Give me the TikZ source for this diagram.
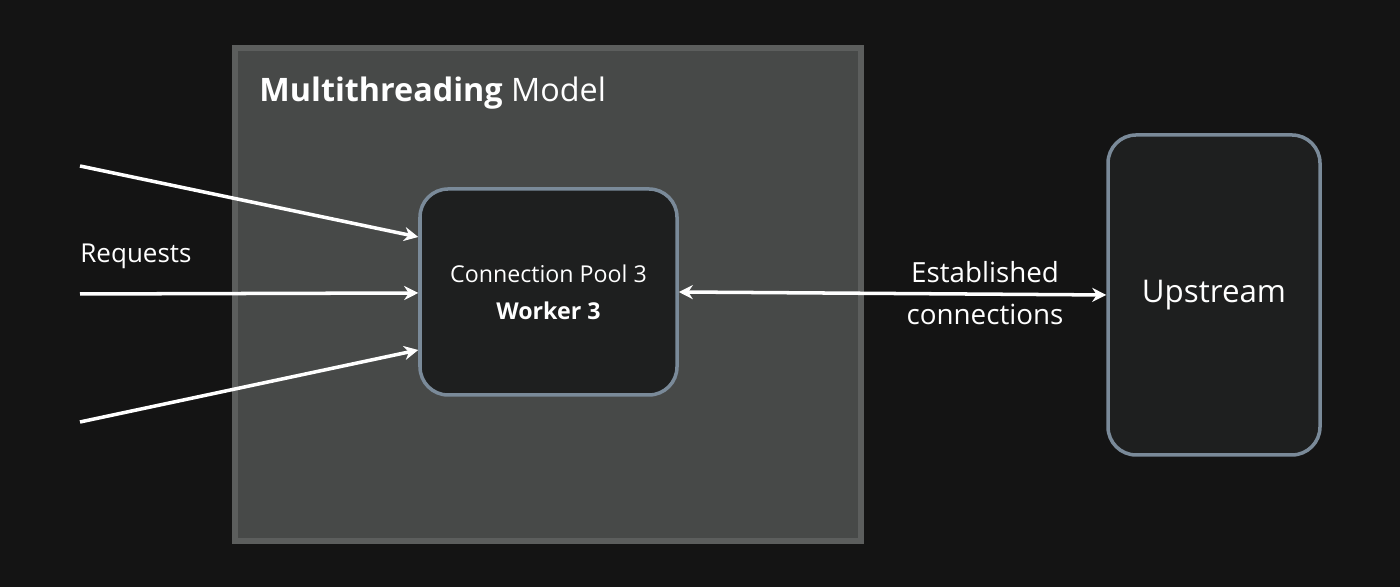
\documentclass[tikz,border=0pt]{standalone}
\usepackage{fontspec}
\setmainfont{Open Sans}
\usetikzlibrary{arrows.meta}
\definecolor{bgdark}{HTML}{141414}
\definecolor{modelfill}{HTML}{474948}
\definecolor{modeldraw}{HTML}{5C5E5D}
\definecolor{boxfill}{HTML}{1E1F1F}
\definecolor{boxdraw}{HTML}{7A8A99}
\begin{document}
\begin{tikzpicture}[
    model/.style={
        rectangle,
        minimum width=6.26cm,
        minimum height=4.93cm,
        draw=modeldraw,
        line width=1.5pt,
        fill=modelfill
    },
    worker/.style={
        rectangle,
        rounded corners=8pt,
        minimum width=2.57cm,
        minimum height=2.06cm,
        draw=boxdraw,
        line width=1pt,
        fill=boxfill,
        text=white,
        align=center,
        font=\fontsize{6.6pt}{9.5pt}\selectfont
    },
    flow/.style={
        -{Stealth[length=4pt,width=4pt]},
        white,
        line width=1pt
    }
]

% Background
\fill[bgdark] (0,0) rectangle (14,5.87);
\useasboundingbox (0,0) rectangle (14,5.87);

% Containers
\node[model] (model) at (5.48,2.925) {};
\node[anchor=west, text=white, font=\fontsize{9.2pt}{10pt}\selectfont] (title) at (2.47,4.94) {\textbf{Multithreading} Model};
\node[worker] (pool) at (5.485,2.95) {Connection Pool 3\\[1pt]\textbf{Worker 3}};
\node[worker, minimum width=2.12cm, minimum height=3.2cm, font=\fontsize{8.9pt}{10pt}\selectfont] (upstream) at (12.14,2.92) {Upstream};

% Requests
\coordinate (r1) at (0.8,4.21);
\coordinate (r2) at (0.8,2.93);
\coordinate (r3) at (0.8,1.65);
\node[anchor=west, text=white, font=\fontsize{7.4pt}{9pt}\selectfont] (req) at (0.68,3.31) {Requests};
\draw[flow] (r1) -- (pool.west |- 0,3.5);
\draw[flow] (r2) -- (pool.west |- 0,2.94);
\draw[flow] (r3) -- (pool.west |- 0,2.37);

% Upstream link
\draw[flow, {Stealth[length=4pt,width=4pt]}-{Stealth[length=4pt,width=4pt]}] (pool.east |- 0,2.95) -- (upstream.west |- 0,2.92);
\node[text=white, align=center, font=\fontsize{7.9pt}{11.8pt}\selectfont] (est) at (9.85,2.94) {Established\\connections};

\end{tikzpicture}
\end{document}
